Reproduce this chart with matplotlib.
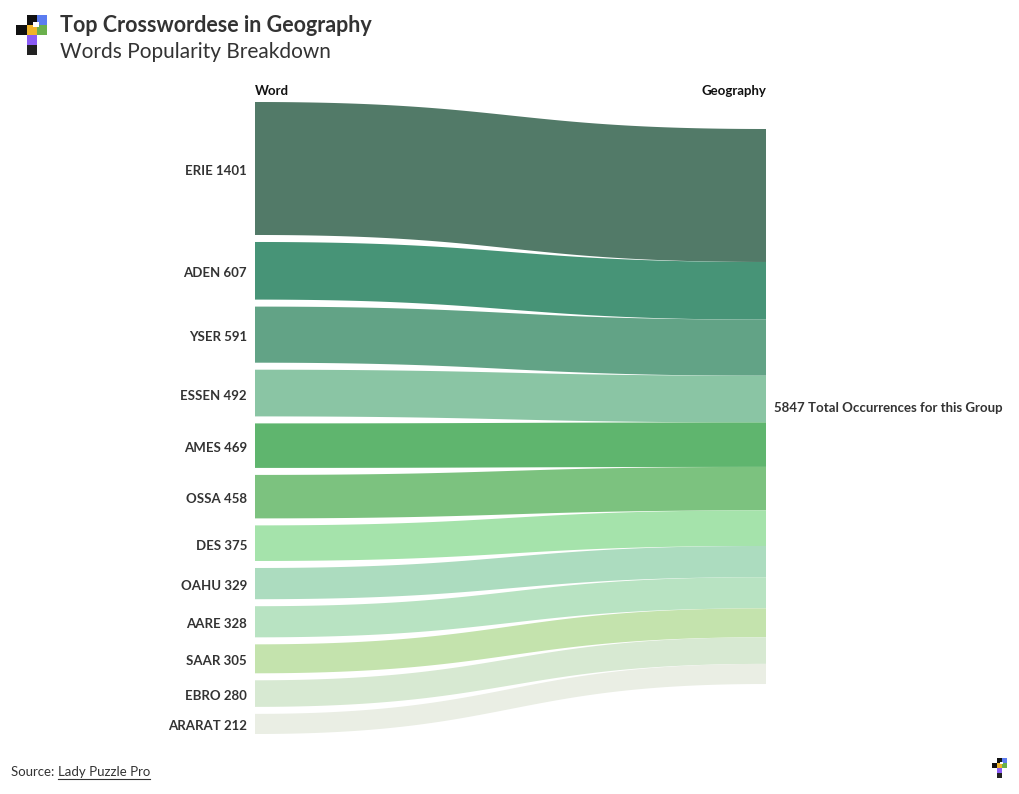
import matplotlib.pyplot as plt
import numpy as np
from matplotlib.patches import Polygon, Rectangle

words = ["ERIE", "ADEN", "YSER", "ESSEN", "AMES", "OSSA", "DES", "OAHU",
         "AARE", "SAAR", "EBRO", "ARARAT"]
counts = [1401, 607, 591, 492, 469, 458, 375, 329, 328, 305, 280, 212]
colors = ["#527a68", "#479477", "#62a386", "#8ac5a4", "#5fb56e", "#7cc27f",
          "#a5e3ab", "#acdcbf", "#b8e3c2", "#c4e3ad", "#d7e9d2", "#eaeee4"]
target = "Geography"

plt.rcParams['font.family'] = ['Lato', 'DejaVu Sans']

W, H = 1020, 794
fig = plt.figure(figsize=(W / 100, H / 100), dpi=100)
ax = fig.add_axes([0, 0, 1, 1])
ax.set_xlim(0, W)
ax.set_ylim(H, 0)
ax.axis("off")

# layout in pixel units
x_left, x_right = 255, 766
scale = 555 / sum(counts)
gap = 7
left_top = 102
right_top = 129

def bezier(y0, y1, n=80):
    t = np.linspace(0, 1, n)
    xm = (x_left + x_right) / 2
    px = [x_left, xm, xm, x_right]
    py = [y0, y0, y1, y1]
    bx = ((1 - t) ** 3 * px[0] + 3 * (1 - t) ** 2 * t * px[1]
          + 3 * (1 - t) * t ** 2 * px[2] + t ** 3 * px[3])
    by = ((1 - t) ** 3 * py[0] + 3 * (1 - t) ** 2 * t * py[1]
          + 3 * (1 - t) * t ** 2 * py[2] + t ** 3 * py[3])
    return bx, by

yl = left_top
yr = right_top
for w, c, col in zip(words, counts, colors):
    h = c * scale
    tx, ty = bezier(yl, yr)
    bx, by = bezier(yl + h, yr + h)
    pts = np.vstack([np.column_stack([tx, ty]),
                     np.column_stack([bx[::-1], by[::-1]])])
    ax.add_patch(Polygon(pts, closed=True, facecolor=col, edgecolor="none"))
    ax.text(247, yl + h / 2 + 2.5, f"{w} {c}", ha="right", va="center",
            fontsize=9.5, fontweight="bold", color="#333333")
    yl += h + gap
    yr += h

total = sum(counts)
ax.text(774, (right_top + yr) / 2 + 2, f"{total} Total Occurrences for this Group",
        ha="left", va="center", fontsize=9.5, fontweight="bold", color="#333333")

ax.text(x_left, 91, "Word", ha="left", va="center", fontsize=9.5,
        fontweight="bold", color="#111111")
ax.text(x_right, 91, target, ha="right", va="center", fontsize=9.5,
        fontweight="bold", color="#111111")

# title
ax.text(60, 26, "Top Crosswordese in Geography", ha="left", va="center",
        fontsize=15.5, fontweight="bold", color="#333333")
ax.text(60, 52, "Words Popularity Breakdown", ha="left", va="center",
        fontsize=15, color="#333333")

# logo
def logo(x0, y0, s):
    blocks = [(1, 0, "#111111"), (2, 0, "#5b7cf0"),
              (0, 1, "#111111"), (1, 1, "#f0b429"), (2, 1, "#6ab04c"),
              (1, 2, "#8b5cf6"), (1, 3, "#222222")]
    for i, j, col in blocks:
        ax.add_patch(Rectangle((x0 + i * s, y0 + j * s), s, s,
                               facecolor=col, edgecolor="none"))
    ax.add_patch(Rectangle((x0 + 1.6 * s, y0 + 0.7 * s), 0.6 * s, 0.5 * s,
                           facecolor="white", edgecolor="none"))

logo(16.5, 14.5, 10.2)
logo(992, 758, 5)

# source
t1 = ax.text(11, 772, "Source: ", ha="left", va="center", fontsize=9.5,
             color="#333333")
fig.canvas.draw()
r = fig.canvas.get_renderer()
bb = t1.get_window_extent(r)
x2 = bb.x1
t2 = ax.text(x2, H - 772, "Lady Puzzle Pro", ha="left", va="center",
             fontsize=9.5, color="#333333", transform=None)
bb2 = t2.get_window_extent(r)
ax.plot([bb2.x0, bb2.x1], [H - 779, H - 779], color="#333333", lw=0.8,
        transform=None)

fig.savefig("out.png", dpi=100, facecolor="white")
